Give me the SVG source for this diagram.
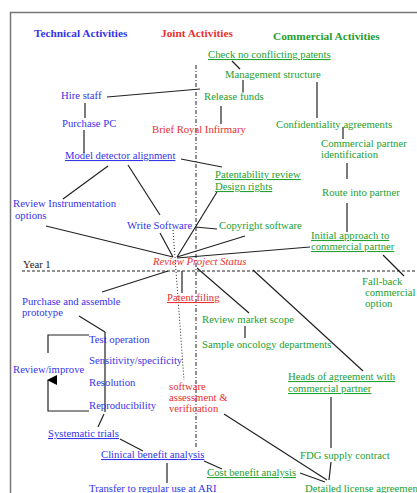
<svg xmlns="http://www.w3.org/2000/svg" width="417" height="493" viewBox="0 0 417 493">
<style>
text{font-family:"Liberation Serif","Times New Roman",serif;font-size:10.7px}
.b{fill:#3535e8}.r{fill:#e83030}.g{fill:#22a032}.k{fill:#222}
.h{font-weight:bold;font-size:11.3px}
.u{text-decoration:underline}
.i{font-style:italic}
.c line,.c polyline{stroke:#222;stroke-width:1.2;fill:none}
</style>
<defs><marker id="ah" markerWidth="10" markerHeight="10" refX="5" refY="1" orient="auto" markerUnits="userSpaceOnUse"><path d="M0,10 L5,0 L10,10 Z" fill="#000"/></marker></defs>
<rect x="0" y="0" width="417" height="493" fill="#fff"/>
<path d="M10.5,500 V12.5 H420" fill="none" stroke="#777" stroke-width="1.5"/>
<line x1="196" y1="65" x2="196" y2="449" stroke="#222" stroke-width="1" stroke-dasharray="4,2,1,2"/>
<line x1="22" y1="271" x2="417" y2="271" stroke="#222" stroke-width="1" stroke-dasharray="3,2"/>
<g class="c" id="connectors">
<line x1="107" y1="97" x2="200" y2="89"/>
<line x1="85" y1="103" x2="85" y2="118"/>
<line x1="84" y1="130" x2="84" y2="153"/>
<line x1="181" y1="159" x2="222" y2="167"/>
<line x1="108" y1="166" x2="63" y2="199"/>
<line x1="128" y1="165" x2="160" y2="215"/>
<line x1="160" y1="233" x2="173" y2="257"/>
<line x1="46" y1="226" x2="173" y2="257"/>
<line x1="217" y1="192" x2="177" y2="257"/>
<line x1="195" y1="227" x2="217" y2="229"/>
<line x1="245" y1="236" x2="177" y2="257"/>
<line x1="310" y1="247" x2="177" y2="258"/>
<line x1="173" y1="230" x2="184" y2="380" stroke-dasharray="1,2" style="stroke-width:1"/>
<line x1="168" y1="271" x2="102" y2="292"/>
<line x1="79" y1="316" x2="105" y2="332"/>
<line x1="182" y1="271" x2="182" y2="293"/>
<line x1="197" y1="268" x2="249" y2="313"/>
<line x1="245" y1="326" x2="245" y2="338"/>
<line x1="253" y1="270" x2="363" y2="371"/>
<line x1="331" y1="397" x2="331" y2="448"/>
<line x1="331" y1="462" x2="329" y2="480"/>
<line x1="224" y1="414" x2="327" y2="480"/>
<line x1="300" y1="473" x2="325" y2="482"/>
<line x1="204" y1="461" x2="222" y2="469"/>
<line x1="167" y1="463" x2="167" y2="483"/>
<line x1="120" y1="439" x2="143" y2="451"/>
<line x1="104" y1="414" x2="98" y2="427"/>
<line x1="105" y1="332" x2="105" y2="412"/>
<polyline points="89,335 48,335 48,353"/>
<polyline points="89,411 48,411 48,380" marker-end="url(#ah)"/>
<line x1="232" y1="61" x2="240" y2="69"/>
<line x1="243" y1="80" x2="243" y2="92"/>
<line x1="221" y1="106" x2="221" y2="124"/>
<line x1="317" y1="82" x2="317" y2="118"/>
<line x1="343" y1="127" x2="343" y2="139"/>
<line x1="347" y1="163" x2="347" y2="179"/>
<line x1="347" y1="203" x2="347" y2="232"/>
<line x1="383" y1="255" x2="404" y2="276"/>
</g>
<g id="headers">
<text class="h b" x="34" y="37">Technical Activities</text>
<text class="h r" x="161" y="37">Joint Activities</text>
<text class="h g" x="273" y="40">Commercial Activities</text>
</g>
<g id="n-check"><text class="g u" x="208" y="58">Check no conflicting patents</text></g>
<g id="n-mgmt"><text class="g" x="225" y="78">Management structure</text></g>
<g id="n-hire"><text class="b" x="61" y="99">Hire staff</text></g>
<g id="n-release"><text class="g" x="204" y="100">Release funds</text></g>
<g id="n-pc"><text class="b" x="62" y="127">Purchase PC</text></g>
<g id="n-brief"><text class="r" x="152" y="133">Brief Royal Infirmary</text></g>
<g id="n-conf"><text class="g" x="276" y="128">Confidentiality agreements</text></g>
<g id="n-cpi"><text class="g" x="321" y="147">Commercial partner</text><text class="g" x="321" y="158">identification</text></g>
<g id="n-model"><text class="b u" x="65" y="159">Model detector alignment</text></g>
<g id="n-patent"><text class="g u" x="215" y="178">Patentability review</text><text class="g u" x="215" y="190">Design rights</text></g>
<g id="n-route"><text class="g" x="322" y="196">Route into partner</text></g>
<g id="n-rio"><text class="b" x="13" y="207">Review Instrumentation</text><text class="b" x="15" y="219">options</text></g>
<g id="n-write"><text class="b" x="127" y="229">Write Software</text></g>
<g id="n-copy"><text class="g" x="219" y="229">Copyright software</text></g>
<g id="n-initial"><text class="g u" x="311" y="239">Initial approach to </text><text class="g u" x="311" y="250">commercial partner</text></g>
<g id="n-rps"><text class="r i" x="153" y="265">Review Project Status</text></g>
<g id="n-year"><text class="k" x="23" y="268">Year 1</text></g>
<g id="n-fall"><text class="g" x="362" y="285">Fall-back</text><text class="g" x="365" y="296">commercial</text><text class="g" x="365" y="307">option</text></g>
<g id="n-pfiling"><text class="r u" x="167" y="301">Patent filing</text></g>
<g id="n-proto"><text class="b" x="22" y="305">Purchase and assemble</text><text class="b" x="22" y="316">prototype</text></g>
<g id="n-market"><text class="g" x="202" y="323">Review market scope</text></g>
<g id="n-test"><text class="b" x="89" y="343">Test operation</text></g>
<g id="n-sample"><text class="g" x="202" y="348">Sample oncology departments</text></g>
<g id="n-sens"><text class="b" x="89" y="364">Sensitivity/specificity</text></g>
<g id="n-review"><text class="b" x="13" y="373">Review/improve</text></g>
<g id="n-heads"><text class="g u" x="288" y="380">Heads of agreement with </text><text class="g u" x="288" y="392">commercial partner</text></g>
<g id="n-sav"><text class="r" x="169" y="390">software</text><text class="r" x="169" y="401">assessment &amp;</text><text class="r" x="169" y="412">verification</text></g>
<g id="n-res"><text class="b" x="89" y="386">Resolution</text></g>
<g id="n-repro"><text class="b" x="89" y="409">Reproducibility</text></g>
<g id="n-sys"><text class="b u" x="48" y="437">Systematic trials</text></g>
<g id="n-clin"><text class="b u" x="101" y="458">Clinical benefit analysis</text></g>
<g id="n-fdg"><text class="g" x="300" y="459">FDG supply contract</text></g>
<g id="n-cost"><text class="g u" x="207" y="476">Cost benefit analysis</text></g>
<g id="n-transfer"><text class="b" x="89" y="492">Transfer to regular use at ARI</text></g>
<g id="n-detail"><text class="g" x="305" y="492">Detailed license agreement</text></g>
</svg>
